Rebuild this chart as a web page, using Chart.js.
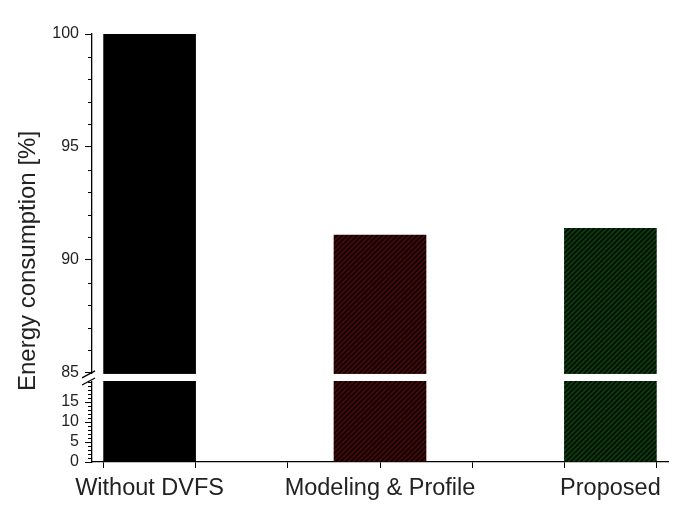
<!DOCTYPE html>
<html>
<head>
<meta charset="utf-8">
<script src="https://cdn.jsdelivr.net/npm/chart.js@4"></script>
<style>
  html, body { margin: 0; padding: 0; background: #fff; }
  #wrap { width: 685px; height: 526px; }
</style>
</head>
<body>
<div id="wrap"><canvas id="energyChart" width="685" height="526"></canvas></div>
<script>
// data
const categories = ['Without DVFS', 'Modeling & Profile', 'Proposed'];
const energy = [100, 91.1, 91.4];

// axis ticks (x marks sit between/at the bars, labels at 1, 2, 3)
const xTickMarks = [0.8, 1.2, 1.6, 2, 2.4, 2.8, 3.2];
const xLabelValues = [1, 2, 3];
const topTickLabels = [85, 90, 95, 100];
const bottomTickLabels = [0, 5, 10, 15];

// broken axis ranges
const TOP_MIN = 84.82, TOP_MAX = 100;
const BOT_MIN = 0, BOT_MAX = 21.25;
const BREAK_HIGH = 85, BREAK_LOW = 20;

function hatch(bg, fg) {
    const s = 5;
    const c = document.createElement('canvas');
    c.width = s; c.height = s;
    const g = c.getContext('2d');
    g.fillStyle = bg;
    g.fillRect(0, 0, s, s);
    g.strokeStyle = fg;
    g.lineWidth = 1.6;
    g.beginPath();
    g.moveTo(-1, s + 1); g.lineTo(s + 1, -1);
    g.moveTo(-s / 2 - 1, s / 2 + 1); g.lineTo(s / 2 + 1, -s / 2 - 1);
    g.moveTo(s / 2 - 1, s * 1.5 + 1); g.lineTo(s * 1.5 + 1, s / 2 - 1);
    g.stroke();
    return g.createPattern(c, 'repeat');
}

const barColors = ['#000000', hatch('#0e0000', '#4a0909'), hatch('#000e00', '#0b3f10')];

Chart.defaults.font.family = 'Arial, "Liberation Sans", sans-serif';
Chart.defaults.color = '#222';

// minor ticks, the axis break and the shared y title
const brokenAxis = {
    id: 'brokenAxis',
    afterDraw(chart) {
        const ctx = chart.ctx;
        const area = chart.chartArea;
        const yTop = chart.scales.yTop;
        const yBot = chart.scales.yBot;
        const ax = area.left;

        ctx.save();
        ctx.strokeStyle = '#000';
        ctx.lineWidth = 1;
        ctx.beginPath();
        for (let v = 86; v < 100; v++) {
            if (v % 5 === 0) continue;
            const y = Math.round(yTop.getPixelForValue(v)) + 0.5;
            ctx.moveTo(ax - 4, y); ctx.lineTo(ax, y);
        }
        for (let v = 1; v <= 20; v++) {
            if (v % 5 === 0 && v !== 20) continue;
            const y = Math.round(yBot.getPixelForValue(v)) + 0.5;
            ctx.moveTo(ax - 4, y); ctx.lineTo(ax, y);
        }
        ctx.stroke();

        const yA = yTop.getPixelForValue(BREAK_HIGH) + 1;
        const yB = yBot.getPixelForValue(BREAK_LOW) - 1;
        ctx.fillStyle = '#fff';
        ctx.fillRect(ax - 12, yA, area.right - ax + 12, yB - yA);

        ctx.lineWidth = 1.3;
        ctx.beginPath();
        ctx.moveTo(ax - 10, yA + 4); ctx.lineTo(ax + 3, yA - 3);
        ctx.moveTo(ax - 10, yB + 4); ctx.lineTo(ax + 3, yB - 3);
        ctx.stroke();

        ctx.translate(28, 261);
        ctx.rotate(-Math.PI / 2);
        ctx.font = '24px Arial, "Liberation Sans", sans-serif';
        ctx.fillStyle = '#222';
        ctx.textAlign = 'center';
        ctx.textBaseline = 'middle';
        ctx.fillText('Energy consumption [%]', 0, 0);
        ctx.restore();
    }
};

const ctx = document.getElementById('energyChart').getContext('2d');

const energyChart = new Chart(ctx, {
    type: 'bar',
    data: {
        datasets: [{
            label: 'top',
            data: categories.map((c, i) => ({ x: i + 1, y: energy[i] })),
            backgroundColor: barColors,
            borderWidth: 0,
            yAxisID: 'yTop',
            grouped: false,
            barThickness: 92
        }, {
            label: 'bottom',
            data: categories.map((c, i) => ({ x: i + 1, y: Math.min(energy[i], BOT_MAX) })),
            backgroundColor: barColors,
            borderWidth: 0,
            yAxisID: 'yBot',
            grouped: false,
            barThickness: 92
        }]
    },
    options: {
        responsive: false,
        animation: false,
        layout: {
            padding: { top: 34, right: 17, left: 0, bottom: 0 }
        },
        plugins: {
            legend: { display: false },
            tooltip: { enabled: false }
        },
        scales: {
            x: {
                type: 'linear',
                offset: false,
                min: 0.75,
                max: 3.25,
                afterBuildTicks: (scale) => {
                    scale.ticks = xTickMarks.concat(xLabelValues)
                        .sort((a, b) => a - b)
                        .filter((v, i, a) => i === 0 || v !== a[i - 1])
                        .map(v => ({ value: v }));
                },
                afterFit: (scale) => { scale.height = 64; },
                grid: {
                    offset: false,
                    drawOnChartArea: false,
                    tickLength: 6,
                    tickColor: (c) => xTickMarks.includes(c.tick && c.tick.value) ? '#000' : 'rgba(0,0,0,0)'
                },
                border: { color: '#000', width: 1.3 },
                ticks: {
                    autoSkip: false,
                    maxRotation: 0,
                    padding: 6,
                    font: { size: 23.5 },
                    callback: (value) => xLabelValues.includes(value) ? categories[value - 1] : ''
                }
            },
            yBot: {
                type: 'linear',
                position: 'left',
                stack: 'energy',
                stackWeight: 85,
                min: BOT_MIN,
                max: BOT_MAX,
                afterBuildTicks: (scale) => {
                    scale.ticks = bottomTickLabels.map(v => ({ value: v }));
                },
                afterFit: (scale) => { scale.width = 92; },
                grid: { drawOnChartArea: false, tickLength: 7, tickColor: '#000' },
                border: { color: '#000', width: 1.3 },
                ticks: { autoSkip: false, padding: 6, font: { size: 16 } }
            },
            yTop: {
                type: 'linear',
                position: 'left',
                stack: 'energy',
                stackWeight: 343,
                min: TOP_MIN,
                max: TOP_MAX,
                afterBuildTicks: (scale) => {
                    scale.ticks = topTickLabels.map(v => ({ value: v }));
                },
                afterFit: (scale) => { scale.width = 92; },
                grid: { drawOnChartArea: false, tickLength: 7, tickColor: '#000' },
                border: { color: '#000', width: 1.3 },
                ticks: { autoSkip: false, padding: 6, font: { size: 16 } }
            }
        }
    },
    plugins: [brokenAxis]
});
</script>
</body>
</html>
